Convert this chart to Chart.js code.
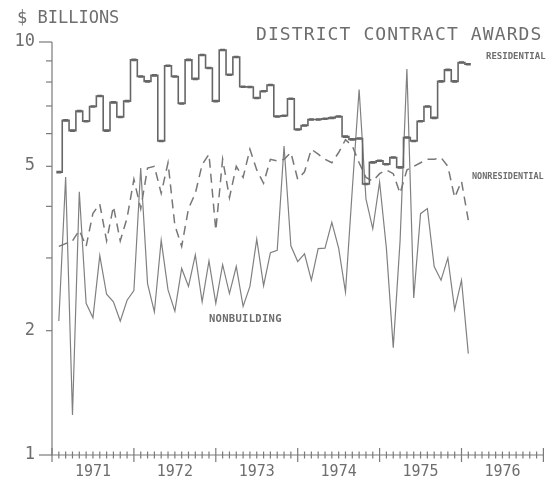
<!DOCTYPE html>
<html><head><meta charset="utf-8">
<script src="https://cdn.jsdelivr.net/npm/chart.js@4.4.1/dist/chart.umd.min.js"></script>
<style>html,body{margin:0;padding:0;background:#fff;}canvas{display:block;}</style>
</head><body>
<canvas id="c" width="550" height="479"></canvas>
<script>
// month index: 1 = Jan 1971 ... 61 = Jan 1976 (axis runs 0..72 months, 1971..1977)
const months = [1,2,3,4,5,6,7,8,9,10,11,12,13,14,15,16,17,18,19,20,21,22,23,24,25,26,27,28,29,30,31,32,33,34,35,36,37,38,39,40,41,42,43,44,45,46,47,48,49,50,51,52,53,54,55,56,57,58,59,60,61];
const residential = [4.84,6.46,6.1,6.8,6.43,6.98,7.4,6.1,7.14,6.58,7.19,9.05,8.25,8.03,8.3,5.76,8.76,8.25,7.1,9.05,8.14,9.3,8.65,7.19,9.56,8.33,9.2,7.79,7.78,7.32,7.6,7.87,6.6,6.63,7.29,6.14,6.28,6.49,6.49,6.52,6.55,6.6,5.9,5.81,5.84,4.53,5.11,5.16,5.06,5.25,4.97,5.87,5.76,6.43,6.98,6.55,8.03,8.56,8.03,8.92,8.83];
const nonresidential = [3.2,3.25,3.3,3.5,3.2,3.85,4.05,3.3,4.0,3.3,3.75,4.65,3.95,4.95,5.0,4.3,5.1,3.6,3.2,3.95,4.3,5.05,5.35,3.5,5.2,4.2,5.0,4.7,5.5,4.9,4.55,5.2,5.15,5.2,5.4,4.65,4.85,5.5,5.35,5.2,5.1,5.4,5.8,5.6,5.1,4.7,4.6,4.8,4.9,4.8,4.3,4.9,5.0,5.1,5.2,5.2,5.25,5.0,4.2,4.6,3.7];
const nonbuilding = [2.11,4.71,1.25,4.34,2.33,2.15,3.04,2.45,2.35,2.11,2.37,2.5,4.95,2.6,2.22,3.31,2.51,2.23,2.83,2.56,3.05,2.35,2.95,2.33,2.89,2.46,2.86,2.29,2.56,3.33,2.57,3.09,3.13,5.6,3.21,2.94,3.07,2.65,3.16,3.17,3.66,3.17,2.48,4.4,7.67,4.17,3.53,4.58,3.16,1.82,3.3,8.6,2.4,3.84,3.95,2.86,2.65,3.0,2.25,2.65,1.76];
const yearLabels = ['1971','1972','1973','1974','1975','1976'];
const yearStarts = [0,12,24,36,48,60,72];
const monthTicks = [0,1,2,3,4,5,6,7,8,9,10,11,12,13,14,15,16,17,18,19,20,21,22,23,24,25,26,27,28,29,30,31,32,33,34,35,36,37,38,39,40,41,42,43,44,45,46,47,48,49,50,51,52,53,54,55,56,57,58,59,60,61,62,63,64,65,66,67,68,69,70,71,72];
const yMinorTicks = [1,2,3,4,5,6,7,8,9,10];
const yLabelTicks = [1,2,5,10];
const titleText = 'DISTRICT CONTRACT AWARDS';
const unitText = '$ BILLIONS';

const toPts = arr => arr.map((v,i)=>({x:months[i], y:v}));
const INK = '#6e6e6e';
const MONO = '"DejaVu Sans Mono", "Liberation Mono", monospace';

const decor = {
  id:'decor',
  beforeDatasetsDraw(chart){
    const ctx = chart.ctx, xs = chart.scales.x, ys = chart.scales.y;
    const L = xs.left, R = xs.right, T = ys.top, B = ys.bottom;
    ctx.save();
    ctx.strokeStyle = '#7a7a7a'; ctx.lineWidth = 1.2;
    ctx.beginPath(); ctx.moveTo(L, T); ctx.lineTo(L, B); ctx.lineTo(R, B); ctx.stroke();
    yMinorTicks.forEach(v=>{
      const y = ys.getPixelForValue(v);
      const len = (v===10||v===1) ? 13 : 6;
      ctx.beginPath(); ctx.moveTo(L-len, y); ctx.lineTo(L, y); ctx.stroke();
    });
    monthTicks.forEach(m=>{
      const x = xs.getPixelForValue(m);
      const major = yearStarts.includes(m);
      const h = major ? 7 : 3.5;
      ctx.beginPath(); ctx.moveTo(x, B-h); ctx.lineTo(x, B+h); ctx.stroke();
    });
    ctx.fillStyle = INK;
    ctx.font = '17px ' + MONO;
    ctx.textAlign = 'right'; ctx.textBaseline = 'middle';
    yLabelTicks.forEach(v=>{
      ctx.fillText(String(v), 35, ys.getPixelForValue(v)-0.5);
    });
    ctx.font = '15px ' + MONO;
    ctx.textAlign = 'center'; ctx.textBaseline = 'alphabetic';
    yearLabels.forEach((t,i)=>{
      const x = (xs.getPixelForValue(yearStarts[i]) + xs.getPixelForValue(yearStarts[i+1]))/2;
      ctx.fillText(t, x, 476);
    });
    ctx.textAlign = 'left';
    ctx.font = '17px ' + MONO;
    ctx.fillText(unitText, 17, 23);
    ctx.font = '18px ' + MONO;
    ctx.letterSpacing = '1.1px';
    ctx.fillText(titleText, 256, 40);
    ctx.letterSpacing = '0px';
    ctx.font = 'bold 9px ' + MONO;
    ctx.fillText('RESIDENTIAL', 486, 59);
    ctx.font = 'bold 8.5px ' + MONO;
    ctx.fillText('NONRESIDENTIAL', 472, 179);
    ctx.font = 'bold 10.5px ' + MONO;
    ctx.letterSpacing = '0.3px';
    ctx.fillText('NONBUILDING', 209, 322);
    ctx.restore();
  }
};

new Chart(document.getElementById('c'), {
  type:'line',
  data:{
    datasets:[
      {label:'RESIDENTIAL', data:toPts(residential), borderColor:'#666', borderWidth:1.6, stepped:'middle',
       pointStyle:'line', pointRadius:2.5, pointBorderWidth:2.6, pointBorderColor:'#666', pointBackgroundColor:'#666'},
      {label:'NONRESIDENTIAL', data:toPts(nonresidential), borderColor:'#777', borderWidth:1.5,
       borderDash:[9,6], pointRadius:0, tension:0},
      {label:'NONBUILDING', data:toPts(nonbuilding), borderColor:'#808080', borderWidth:1.2,
       pointRadius:0, tension:0}
    ]
  },
  options:{
    responsive:false, animation:false, devicePixelRatio:1,
    layout:{padding:{left:52, right:6, top:42, bottom:24}},
    plugins:{legend:{display:false}, tooltip:{enabled:false}, title:{display:false}},
    scales:{
      x:{type:'linear', min:0, max:72, display:false},
      y:{type:'logarithmic', min:1, max:10, display:false}
    },
    elements:{line:{fill:false}}
  },
  plugins:[decor]
});
</script>
</body></html>
